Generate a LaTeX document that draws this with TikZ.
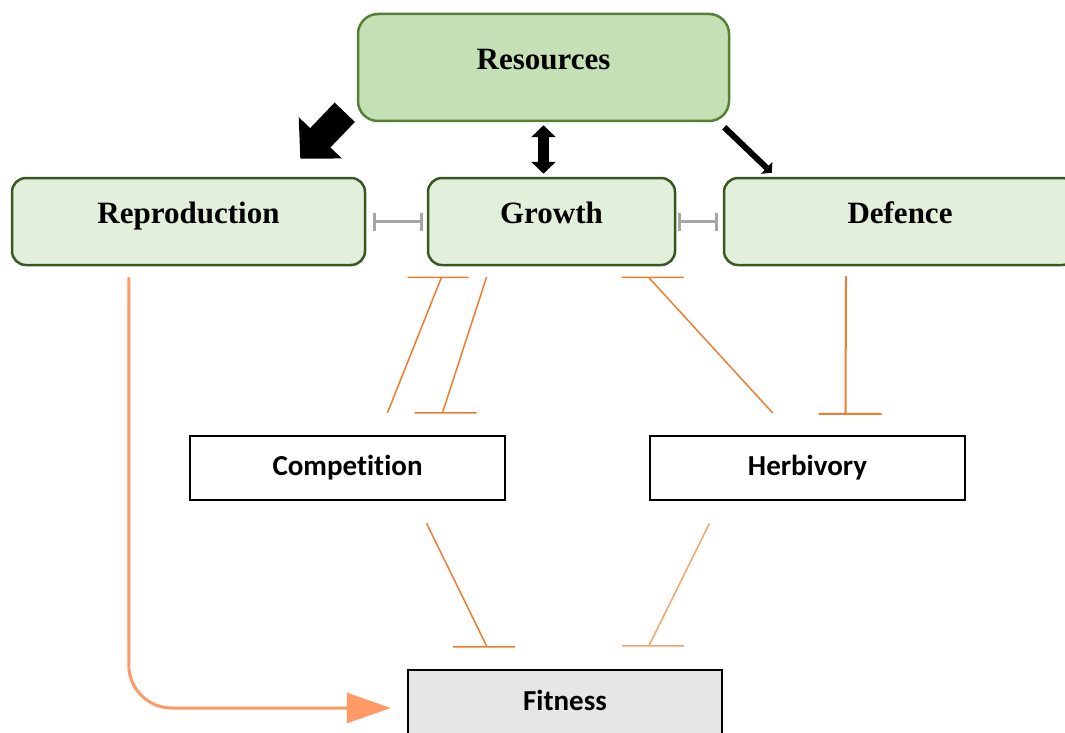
\documentclass[tikz,border=0pt]{standalone}
\usepackage{fontspec}
\setmainfont{Liberation Serif}
\newfontfamily\calfont[Ligatures=NoCommon]{Carlito}
\usetikzlibrary{arrows.meta,calc}

\definecolor{resfill}{HTML}{C5E0B4}
\definecolor{resline}{HTML}{548235}
\definecolor{traitfill}{HTML}{E2EFDA}
\definecolor{traitline}{HTML}{385723}
\definecolor{fitfill}{HTML}{E7E6E6}
\definecolor{inhiborange}{HTML}{ED7D31}
\definecolor{paleorange}{HTML}{F4A26C}
\definecolor{reporange}{HTML}{FF9966}
\definecolor{tradegray}{HTML}{A6A6A6}

\begin{document}
\begin{tikzpicture}[x=1pt, y=-1pt,
resnode/.style={rectangle, rounded corners=20pt, draw=resline, line width=2.5pt, fill=resfill, minimum width=371pt, minimum height=107pt, font=\fontsize{31}{36}\selectfont\bfseries, text height=12pt, text depth=8pt},
traitnode/.style={rectangle, rounded corners=14pt, draw=traitline, line width=2.5pt, fill=traitfill, minimum height=87pt, font=\fontsize{31}{36}\selectfont\bfseries, text height=12pt, text depth=8pt},
factornode/.style={rectangle, draw=black, line width=2.5pt, fill=white, minimum width=315pt, minimum height=64pt, font=\calfont\bfseries\fontsize{29}{33}\selectfont, text height=19pt, text depth=4pt},
inhib/.style={draw=inhiborange, line width=1.5pt},
tradeoff/.style={draw=tradegray, line width=3pt, {Bar[width=18pt]}-{Bar[width=18pt]}},
]
\useasboundingbox (0,0) rectangle (1065,733);

%Nodes
\node[resnode]                        (res) at (543.5,67.5) {Resources};
\node[traitnode, minimum width=353pt] (rep) at (188.5,221.5) {Reproduction};
\node[traitnode, minimum width=247pt] (gro) at (551.5,221.5) {Growth};
\node[traitnode, minimum width=352pt] (def) at (900,221.5) {Defence};
\node[factornode]                     (comp) at (347.5,468) {Competition};
\node[factornode]                     (herb) at (807.5,468) {Herbivory};
\node[factornode, fill=fitfill, minimum width=314pt, minimum height=66pt] (fit) at (565,703) {Fitness};

%Lines
\draw[line width=28pt, -{Triangle[length=29pt,width=58pt]}] ($(res.south west)+(-12,-10)$) -- ($(rep.north east)+(-66,-18)$);
\draw[line width=11pt, {Triangle[length=12pt,width=24pt]}-{Triangle[length=12pt,width=24pt]}] ($(res.south)+(0,3)$) -- ($(res.south |- gro.north)+(0,-3)$);
\draw[line width=6pt, -{Triangle[length=7pt,width=16pt]}] ($(res.south east)+(-6,5)$) -- ($(def.north west)+(49,-4)$);
\draw[tradeoff, shorten <=7pt, shorten >=4pt] (rep.east) -- (gro.west);
\draw[tradeoff, shorten <=2pt, shorten >=5pt] (gro.east) -- (def.west);

%Inhibition (flat bars)
\draw[inhib] ($(comp.north)+(40,-22)$) -- ($(gro.south)+(-110,11)$) ++(-34,0) -- ++(61,0);
\draw[inhib] ($(gro.south)+(-65,11)$) -- ($(comp.north)+(95,-22)$) ++(-28,0) -- ++(62,0);
\draw[inhib] ($(herb.north)+(-35,-22)$) -- ($(gro.south)+(97,11)$) ++(-27,0) -- ++(62,0);
\draw[inhib, line width=2pt] ($(def.south)+(-54,10)$) -- ($(herb.north)+(38,-21)$) ++(-27,0) -- ++(63,0);
\draw[inhib] ($(comp.south)+(79,22)$) -- ($(fit.north)+(-78,-22)$) ++(-34,0) -- ++(62,0);
\draw[inhib, draw=paleorange] ($(herb.south)+(-98,22)$) -- ($(fit.north)+(84,-23)$) ++(-27,0) -- ++(62,0);

\draw[draw=reporange, line width=3pt, rounded corners=43pt, -{Triangle[length=44pt,width=30pt]}] ($(rep.south west)+(118,11)$) |- ($(fit.west)+(-16,5)$);
\end{tikzpicture}
\end{document}
